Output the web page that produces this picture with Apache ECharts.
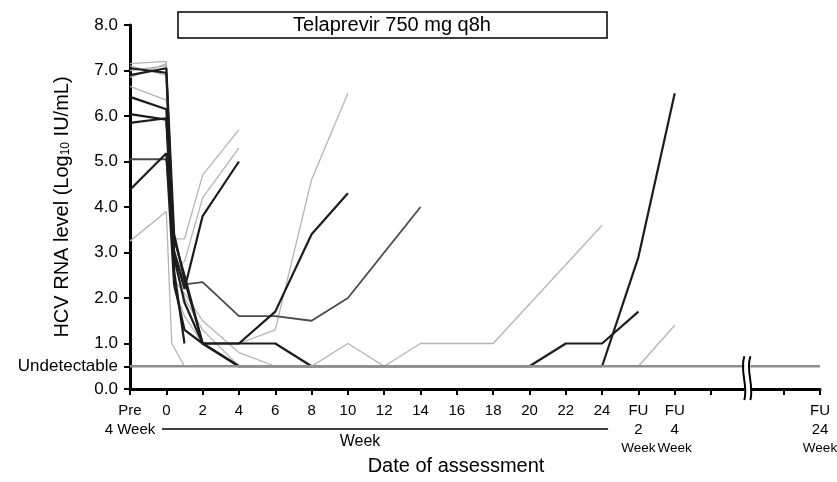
<!DOCTYPE html>
<html><head><meta charset="utf-8">
<script src="https://cdn.jsdelivr.net/npm/echarts@6/dist/echarts.min.js"></script>
<style>html,body{margin:0;padding:0;background:#fff}#c{width:837px;height:482px}</style>
</head><body><div id="c"></div>
<script>
// ---- axis definitions (x in weeks; Pre = -2, FU2 = 26, FU4 = 28, break = 32, FU24 drawn at 36)
const yTickValues = [0, 0.5, 1, 2, 3, 4, 5, 6, 7, 8];
const xTickWeeks  = [-2, 0, 2, 4, 6, 8, 10, 12, 14, 16, 18, 20, 22, 24, 26, 28, 30, 34, 36];
const xTickLabels = ['Pre\n4 Week', '0', '2', '4', '6', '8', '10', '12', '14', '16', '18', '20', '22', '24',
                     'FU\n2\n{w|Week}', 'FU\n4\n{w|Week}', '', '', 'FU\n24\n{w|Week}'];
const undetectableLevel = 0.5;
const breakWeek = 32;

// ---- patients (dark lines)
const d1Weeks = [-2, 0, 0.43, 1, 2, 4, 6, 8];
const d1Vals  = [7.05, 6.95, 2.9, 1.9, 1.0, 1.0, 1.0, 0.5];
const d2Weeks = [-2, 0, 0.43, 1, 2, 4, 6, 8, 10];
const d2Vals  = [6.9, 7.05, 3.4, 2.4, 1.0, 1.0, 1.7, 3.4, 4.3];
const d3Weeks = [-2, 0, 0.43, 1, 2, 4];
const d3Vals  = [6.42, 6.15, 3.0, 2.2, 3.8, 5.0];
const d4Weeks = [-2, 0, 0.43, 1];
const d4Vals  = [6.04, 5.92, 2.6, 1.0];
const d5Weeks = [-2, 0, 0.43, 1, 2, 4, 20, 22, 24, 26];
const d5Vals  = [5.85, 5.95, 3.3, 2.5, 1.0, 0.5, 0.5, 1.0, 1.0, 1.7];
const d6Weeks = [-2, 0, 0.43, 1, 2, 4, 6, 8, 10, 14];
const d6Vals  = [5.05, 5.05, 3.05, 2.3, 2.35, 1.6, 1.6, 1.5, 2.0, 4.0];
const d7Weeks = [-2, 0, 0.43, 1, 2, 4, 24, 26, 28];
const d7Vals  = [4.38, 5.18, 2.3, 1.3, 1.0, 0.5, 0.5, 2.9, 6.5];

// ---- patients (light grey lines)
const g1Weeks = [-2, 0, 0.43, 1, 2, 4, 8, 10, 12, 14, 18, 24];
const g1Vals  = [7.15, 7.2, 2.8, 2.0, 1.3, 0.5, 0.5, 1.0, 0.5, 1.0, 1.0, 3.6];
const g2Weeks = [-2, 0, 0.43, 1, 2, 4];
const g2Vals  = [6.85, 7.15, 3.3, 3.3, 4.7, 5.7];
const g3Weeks = [-2, 0, 0.43, 1, 2, 4];
const g3Vals  = [6.65, 6.35, 2.6, 2.8, 4.2, 5.3];
const g4Weeks = [-2, 0, 0.3, 1];
const g4Vals  = [3.25, 3.9, 1.0, 0.5];
const g5Weeks = [-2, 0, 0.43, 1, 2, 4, 6, 8, 10];
const g5Vals  = [7.0, 7.1, 2.2, 1.6, 1.0, 1.0, 1.3, 4.6, 6.5];
const g6Weeks = [-2, 0, 0.43, 1, 2, 4, 6, 26, 28];
const g6Vals  = [7.1, 6.9, 2.4, 2.1, 1.5, 0.8, 0.5, 0.5, 1.4];

const FONT = '"Liberation Sans", Arial, sans-serif';
const DARK = '#1c1c1c', MID = '#4a4a4a', LIGHT = '#b4b4b4';

function pts(w, v) { return w.map((x, i) => [x, v[i]]); }
function ln(name, w, v, color, width, z) {
  return { name, type: 'line', data: pts(w, v), symbol: 'none', showSymbol: false,
           lineStyle: { color, width }, itemStyle: { color }, silent: true, z: z || 2 };
}

const chart = echarts.init(document.getElementById('c'), null, { renderer: 'canvas' });
chart.setOption({
  animation: false,
  backgroundColor: '#fff',
  textStyle: { fontFamily: FONT },
  grid: { left: 130, right: 17, top: 25, bottom: 93, containLabel: false, outerBoundsMode: 'none' },
  xAxis: {
    type: 'value', min: -2, max: 36,
    splitLine: { show: false },
    axisLine: { onZero: false, lineStyle: { color: '#000', width: 3 } },
    axisTick: { customValues: xTickWeeks, length: 6, lineStyle: { color: '#000', width: 2 } },
    axisLabel: {
      customValues: xTickWeeks,
      formatter: v => { const i = xTickWeeks.indexOf(v); return i >= 0 ? xTickLabels[i] : ''; },
      color: '#000', fontSize: 15, lineHeight: 19, margin: 12, fontFamily: FONT,
      rich: { w: { fontSize: 13.5, lineHeight: 19, fontFamily: FONT, color: '#000' } }
    }
  },
  yAxis: {
    type: 'value', min: 0, max: 8,
    splitLine: { show: false },
    axisLine: { show: true, onZero: false, lineStyle: { color: '#000', width: 3 } },
    axisTick: { show: true, customValues: yTickValues, length: 6, lineStyle: { color: '#000', width: 2 } },
    axisLabel: {
      customValues: yTickValues,
      formatter: v => v === undetectableLevel ? 'Undetectable' : v.toFixed(1),
      color: '#000', fontSize: 17, margin: 12, fontFamily: FONT
    },
    name: 'HCV RNA level (Log{s|10} IU/mL)',
    nameLocation: 'middle', nameGap: 58, nameMoveOverlap: false,
    nameTextStyle: { color: '#000', fontSize: 20, fontFamily: FONT,
      rich: { s: { fontSize: 12, fontFamily: FONT, color: '#000', verticalAlign: 'bottom', padding: [6, 0, 0, 0] } } }
  },
  series: [
    ln('g1', g1Weeks, g1Vals, LIGHT, 1.3),
    ln('g2', g2Weeks, g2Vals, LIGHT, 1.3),
    ln('g3', g3Weeks, g3Vals, LIGHT, 1.3),
    ln('g4', g4Weeks, g4Vals, LIGHT, 1.3),
    ln('g5', g5Weeks, g5Vals, LIGHT, 1.3),
    ln('g6', g6Weeks, g6Vals, LIGHT, 1.3),
    ln('d6', d6Weeks, d6Vals, MID, 1.8),
    ln('d1', d1Weeks, d1Vals, DARK, 2.2),
    ln('d2', d2Weeks, d2Vals, DARK, 2.2),
    ln('d3', d3Weeks, d3Vals, DARK, 2.2),
    ln('d4', d4Weeks, d4Vals, DARK, 2.2),
    ln('d5', d5Weeks, d5Vals, DARK, 2.2),
    ln('d7', d7Weeks, d7Vals, DARK, 2.2),
    ln('Undetectable', [-2, 36], [undetectableLevel, undetectableLevel], '#8f8f8f', 2.6, 5)
  ]
});

// annotations positioned from the axes
const pBreak = chart.convertToPixel({ gridIndex: 0 }, [breakWeek, 0]);
const pUnd = chart.convertToPixel({ gridIndex: 0 }, [breakWeek, undetectableLevel]);
const p0 = chart.convertToPixel({ gridIndex: 0 }, [-2, 0]);
const p24 = chart.convertToPixel({ gridIndex: 0 }, [24, 0]);
const bx = pBreak[0], by = pBreak[1];
const yTop = pUnd[1] - 10, yBot = by + 11;
function squiggle(x) {
  return { type: 'bezierCurve', z: 100,
    shape: { x1: x, y1: yTop, x2: x, y2: yBot, cpx1: x - 5, cpy1: yTop + (yBot - yTop) * 0.35, cpx2: x + 4, cpy2: yTop + (yBot - yTop) * 0.65 },
    style: { stroke: '#000', lineWidth: 2, fill: null } };
}
chart.setOption({
  graphic: [
    { type: 'rect', z: 99, shape: { x: bx - 3, y: yTop, width: 6, height: yBot - yTop }, style: { fill: '#fff' } },
    squiggle(bx - 3), squiggle(bx + 3),
    { type: 'rect', z: 50, shape: { x: 178, y: 12, width: 429, height: 26 }, style: { fill: '#fff', stroke: '#000', lineWidth: 1.5 } },
    { type: 'text', z: 51, style: { text: 'Telaprevir 750 mg q8h', x: 392, y: 25, align: 'center', verticalAlign: 'middle', font: '20px ' + FONT, fill: '#000' } },
    { type: 'line', z: 51, shape: { x1: p0[0] + 32, y1: by + 40, x2: p24[0] + 6, y2: by + 40 }, style: { stroke: '#000', lineWidth: 1.5 } },
    { type: 'text', z: 51, style: { text: 'Week', x: 360, y: by + 53, align: 'center', verticalAlign: 'middle', font: '16px ' + FONT, fill: '#000' } },
    { type: 'text', z: 51, style: { text: 'Date of assessment', x: 456, y: by + 77, align: 'center', verticalAlign: 'middle', font: '20px ' + FONT, fill: '#000' } }
  ]
});
</script>
</body></html>
